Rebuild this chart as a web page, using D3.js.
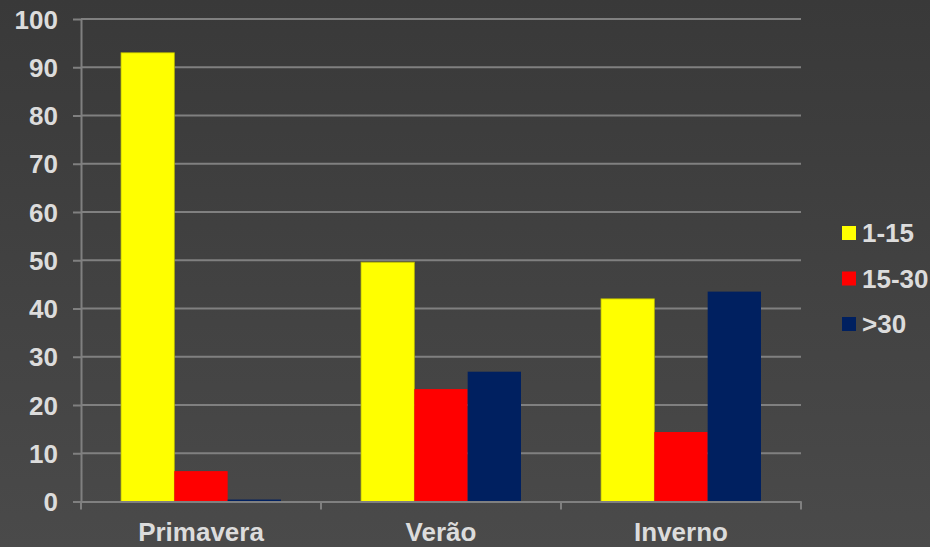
<!DOCTYPE html>
<html>
<head>
<meta charset="utf-8">
<script src="https://cdn.jsdelivr.net/npm/d3@7"></script>
<style>
  html, body { margin: 0; padding: 0; background: #404040; }
  svg { display: block; }
</style>
</head>
<body>
<svg id="chart" width="930" height="547"></svg>
<script>
// Percentage of records per period, by duration class
const seasons = ["Primavera", "Verão", "Inverno"];
const seriesNames = ["1-15", "15-30", ">30"];
const values1to15 = [93, 49.6, 42];
const values15to30 = [6.3, 23.3, 14.4];
const valuesOver30 = [0.4, 26.9, 43.5];
const seriesColors = ["#ffff00", "#ff0000", "#002060"];
const yTicks = [0, 10, 20, 30, 40, 50, 60, 70, 80, 90, 100];

const seriesValues = [values1to15, values15to30, valuesOver30];

const W = 930, H = 547;
const svg = d3.select("#chart");

// Background gradient
const defs = svg.append("defs");
const grad = defs.append("linearGradient").attr("id", "bg").attr("x1", 0).attr("y1", 0).attr("x2", 0).attr("y2", 1);
grad.append("stop").attr("offset", "0%").attr("stop-color", "#393939");
grad.append("stop").attr("offset", "100%").attr("stop-color", "#4a4a4a");
svg.append("rect").attr("width", W).attr("height", H).attr("fill", "url(#bg)");

const x0 = d3.scaleBand().domain(seasons).range([81, 801]).paddingInner(0).paddingOuter(0);
const x1 = d3.scaleBand().domain(seriesNames).range([0, x0.bandwidth()]).paddingInner(0).paddingOuter(0.75);
const y = d3.scaleLinear().domain([0, 100]).range([501.5, 19]);

const textColor = "#dcdcdc";
const gridColor = "#808080";
const fontFamily = "Arial, 'Liberation Sans', sans-serif";
const fontSize = "26px";

// Value axis with left tick stubs
const yAxis = d3.axisLeft(y).tickValues(yTicks).tickSize(8).tickPadding(15).tickSizeOuter(0);
const gy = svg.append("g").attr("transform", "translate(81,0)").call(yAxis);
gy.select(".domain").attr("stroke", gridColor).attr("stroke-width", 2);
gy.selectAll(".tick line").attr("stroke", gridColor).attr("stroke-width", 2);
gy.selectAll(".tick text")
  .attr("fill", textColor)
  .attr("dy", "0.35em")
  .style("font-family", fontFamily)
  .style("font-weight", "bold")
  .style("font-size", fontSize);

// Horizontal gridlines
svg.append("g").selectAll("line.grid")
  .data(yTicks.filter(d => d > 0))
  .join("line")
  .attr("x1", 81).attr("x2", 801)
  .attr("y1", d => y(d)).attr("y2", d => y(d))
  .attr("stroke", gridColor).attr("stroke-width", 2);

// Bars
const groups = svg.append("g").selectAll("g")
  .data(seasons)
  .join("g")
  .attr("transform", d => `translate(${x0(d)},0)`);

groups.selectAll("rect")
  .data((d, i) => seriesNames.map((s, j) => ({ s, v: seriesValues[j][i], c: seriesColors[j] })))
  .join("rect")
  .attr("x", d => x1(d.s))
  .attr("width", x1.bandwidth())
  .attr("y", d => y(d.v))
  .attr("height", d => y(0) - y(d.v))
  .attr("fill", d => d.c)
  .attr("stroke", d => d.c === "#ffff00" ? "#b8b800" : "none")
  .attr("stroke-width", 0.8);

// Category axis
const xAxis = d3.axisBottom(x0).tickSize(0).tickPadding(0);
const gx = svg.append("g").attr("transform", `translate(0,${y(0)})`).call(xAxis);
gx.select(".domain").attr("stroke", gridColor).attr("stroke-width", 2);
gx.selectAll(".tick text")
  .attr("fill", textColor)
  .attr("y", 39)
  .attr("dy", 0)
  .style("font-family", fontFamily)
  .style("font-weight", "bold")
  .style("font-size", fontSize);
// Tick marks at category boundaries
svg.append("g").selectAll("line")
  .data(seasons.map(s => x0(s)).concat([x0(seasons[seasons.length - 1]) + x0.bandwidth()]))
  .join("line")
  .attr("x1", d => d).attr("x2", d => d)
  .attr("y1", y(0)).attr("y2", y(0) + 8)
  .attr("stroke", gridColor).attr("stroke-width", 2);

// Legend
const legend = svg.append("g").attr("transform", "translate(842,226)");
const li = legend.selectAll("g").data(seriesNames).join("g")
  .attr("transform", (d, i) => `translate(0,${i * 45.5})`);
li.append("rect").attr("width", 14).attr("height", 14).attr("fill", (d, i) => seriesColors[i]);
li.append("text")
  .attr("x", 20).attr("y", 7).attr("dy", "0.36em")
  .attr("fill", textColor)
  .style("font-family", fontFamily)
  .style("font-weight", "bold")
  .style("font-size", fontSize)
  .text(d => d);
</script>
</body>
</html>
